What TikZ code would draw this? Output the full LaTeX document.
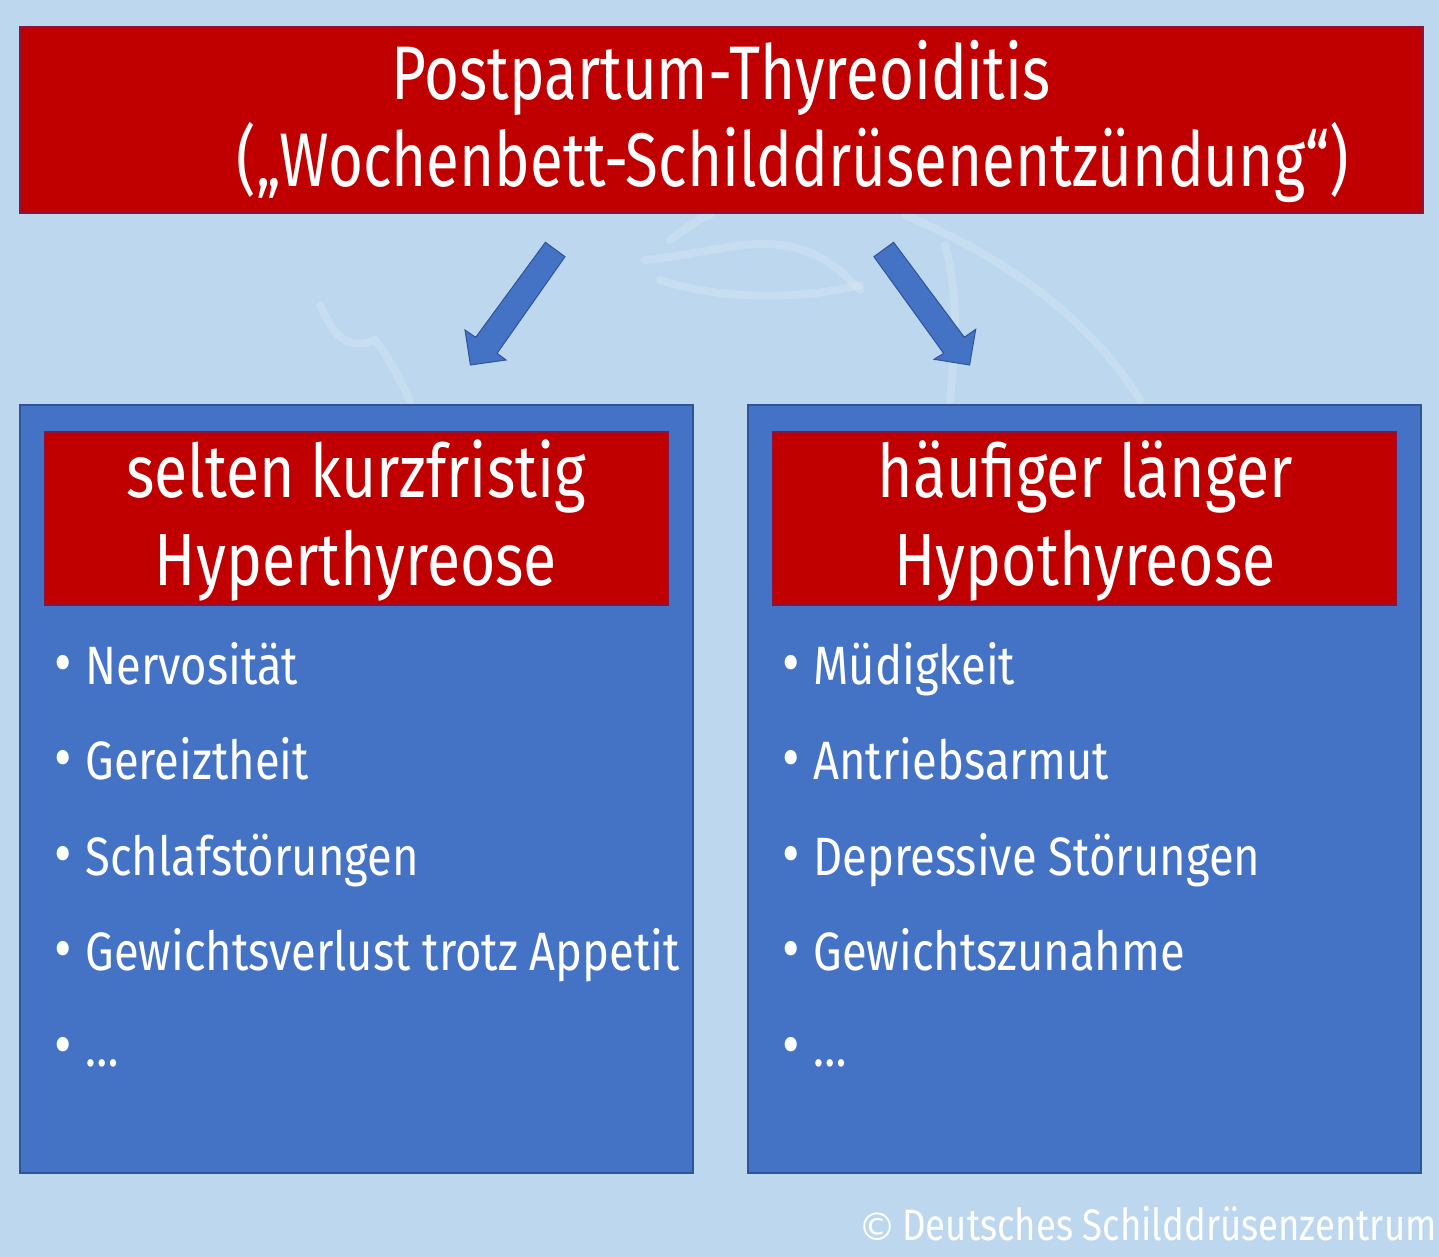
\documentclass[tikz,border=0pt]{standalone}
\usepackage{fontspec}
\setmainfont{Fira Sans}[FakeStretch=0.8]
\newfontfamily\titlef{Fira Sans}[FakeStretch=0.79]
\newfontfamily\headf{Fira Sans}[FakeStretch=0.82]
\newfontfamily\itemf{Fira Sans}[FakeStretch=0.84]
\newfontfamily\copyf{Fira Sans}[FakeStretch=0.83]
\newfontfamily\symf{DejaVu Sans}
\definecolor{bg}{RGB}{189,215,238}
\definecolor{dred}{RGB}{192,0,0}
\definecolor{dredline}{RGB}{140,20,60}
\definecolor{mblue}{RGB}{68,114,196}
\definecolor{bblue}{RGB}{47,85,151}
\newcommand{\bul}{\makebox[15.5pt][l]{\fontsize{32}{32}\selectfont •}}
\tikzset{
  redbox/.style={fill=dred,draw=dredline,line width=0.6pt},
  bluebox/.style={fill=mblue,draw=bblue,line width=0.6pt},
  blockarrow/.style={fill=mblue,draw=bblue,line width=0.5pt},
  titletxt/.style={text=white,inner sep=0pt,font=\titlef\fontsize{38}{43}\selectfont},
  headtxt/.style={text=white,inner sep=0pt,font=\headf\fontsize{37}{42}\selectfont},
  itemtxt/.style={text=white,inner sep=0pt,anchor=base west,font=\itemf\fontsize{27}{32}\selectfont},
  wm/.style={draw=white,draw opacity=0.16,line width=4pt,line cap=round}
}
\begin{document}
\begin{tikzpicture}[x=0.5pt,y=-0.5pt]
\fill[bg] (0,0) rectangle (1439,1257);
\useasboundingbox (0,0) rectangle (1439,1257);
% faint watermark
\draw[wm] (905,215) .. controls (1010,260) and (1090,320) .. (1140,400);
\draw[wm] (945,245) .. controls (960,300) and (955,350) .. (950,400);
\draw[wm] (645,260) .. controls (700,255) and (740,240) .. (780,245) .. controls (820,250) and (840,270) .. (860,290);
\draw[wm] (660,280) .. controls (720,300) and (800,300) .. (860,285);
\draw[wm] (320,305) .. controls (335,340) and (350,350) .. (375,340) .. controls (390,360) and (400,380) .. (410,400);
\draw[wm] (670,240) .. controls (690,225) and (700,218) .. (710,215);
% title
\path[redbox] (20,27) rectangle (1423,213);
\node[titletxt,anchor=base] (t1) at (721,100) {Postpartum-Thyreoiditis};
\node[titletxt,anchor=base] (t2) at (793,187) {(„Wochenbett-Schilddrüsenentzündung“)};
% arrows
\path[blockarrow] (545.4,242.3) -- (565,256.7) -- (497.1,353.3) -- (506,360) -- (470.4,365) -- (465,330) -- (475.7,337.3) -- cycle;
\path[blockarrow] (893.6,242.3) -- (873.9,256.7) -- (943.6,353.3) -- (934,359.3) -- (969.6,365) -- (975.7,329.3) -- (964.3,337.3) -- cycle;
% left box
\path[bluebox] (20,405) rectangle (693,1173);
\path[redbox] (45,432) rectangle (668,605);
\node[headtxt,anchor=base] (lh1) at (356,497) {selten kurzfristig};
\node[headtxt,anchor=base] (lh2) at (356,585) {Hyperthyreose};
\node[itemtxt] (l1) at (54,684) {\bul Nervosität};
\node[itemtxt] (l2) at (54,779) {\bul Gereiztheit};
\node[itemtxt] (l3) at (54,875) {\bul Schlafstörungen};
\node[itemtxt] (l4) at (54,970) {\bul Gewichtsverlust trotz Appetit};
\node[itemtxt] (l5) at (54,1066) {\bul …};
% right box
\path[bluebox] (748,405) rectangle (1421,1173);
\path[redbox] (773,432) rectangle (1396,605);
\node[headtxt,anchor=base] (rh1) at (1085,497) {häufiger länger};
\node[headtxt,anchor=base] (rh2) at (1085,585) {Hypothyreose};
\node[itemtxt] (r1) at (782,684) {\bul Müdigkeit};
\node[itemtxt] (r2) at (782,779) {\bul Antriebsarmut};
\node[itemtxt] (r3) at (782,875) {\bul Depressive Störungen};
\node[itemtxt] (r4) at (782,970) {\bul Gewichtszunahme};
\node[itemtxt] (r5) at (782,1066) {\bul …};
% copyright
\node[text=white,inner sep=0pt,anchor=base east,font=\copyf\fontsize{22}{25}\selectfont] (cp) at (1437,1240) {{\symf\fontsize{19}{19}\selectfont ©}\hspace{3pt}Deutsches Schilddrüsenzentrum};
\end{tikzpicture}
\end{document}
